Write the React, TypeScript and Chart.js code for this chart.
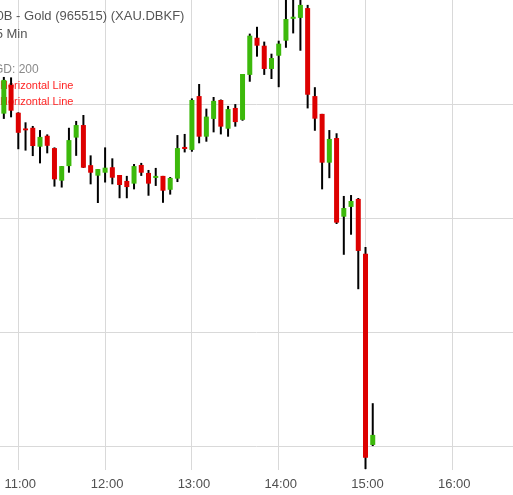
import React, { useEffect, useRef } from "react";
import { Chart, registerables } from "chart.js";

Chart.register(...registerables);

const times = [
  "10:50", "10:55",
  "11:00", "11:05", "11:10", "11:15", "11:20", "11:25", "11:30", "11:35", "11:40", "11:45", "11:50", "11:55",
  "12:00", "12:05", "12:10", "12:15", "12:20", "12:25", "12:30", "12:35", "12:40", "12:45", "12:50", "12:55",
  "13:00", "13:05", "13:10", "13:15", "13:20", "13:25", "13:30", "13:35", "13:40", "13:45", "13:50", "13:55",
  "14:00", "14:05", "14:10", "14:15", "14:20", "14:25", "14:30", "14:35", "14:40", "14:45", "14:50", "14:55",
  "15:00", "15:05",
];

const openValues = [
  1789.59, 1790.85,
  1789.63, 1788.94, 1788.97, 1788.14, 1788.62, 1788.08, 1786.65, 1787.29, 1788.54, 1789.09, 1787.33, 1786.87,
  1787.0, 1787.24, 1786.9, 1786.64, 1786.52, 1787.34, 1786.99, 1786.77, 1786.86, 1786.25, 1786.74, 1788.13,
  1788.0, 1790.36, 1788.58, 1789.36, 1790.19, 1788.93, 1789.84, 1789.32, 1791.29, 1792.92, 1792.57, 1791.55,
  1792.13, 1792.79, 1793.75, 1793.79, 1794.22, 1790.36, 1789.58, 1787.44, 1788.52, 1785.07, 1785.5, 1785.85,
  1783.44, 1775.06,
];

const highValues = [
  1791.2, 1791.18,
  1789.65, 1789.21, 1789.05, 1788.87, 1788.68, 1788.11, 1787.29, 1788.97, 1789.27, 1789.53, 1787.76, 1787.16,
  1788.11, 1787.63, 1786.9, 1786.86, 1787.38, 1787.43, 1787.12, 1787.21, 1786.86, 1786.81, 1788.65, 1788.7,
  1790.26, 1790.89, 1789.81, 1790.32, 1790.21, 1789.93, 1790.01, 1791.33, 1793.1, 1793.4, 1792.75, 1792.22,
  1792.79, 1794.6, 1794.6, 1794.8, 1794.36, 1790.75, 1789.58, 1788.87, 1788.73, 1785.98, 1786.02, 1785.89,
  1783.74, 1776.89,
];

const lowValues = [
  1789.36, 1789.43,
  1788.03, 1787.97, 1787.73, 1787.41, 1787.85, 1786.39, 1786.35, 1787.0, 1787.74, 1787.21, 1786.49, 1785.67,
  1786.57, 1786.49, 1785.88, 1785.88, 1786.27, 1786.86, 1785.99, 1786.42, 1785.68, 1786.04, 1786.59, 1787.89,
  1787.92, 1788.29, 1788.36, 1788.77, 1788.68, 1788.58, 1789.02, 1789.28, 1790.99, 1792.09, 1791.29, 1791.11,
  1790.75, 1792.48, 1793.11, 1792.35, 1789.82, 1788.84, 1786.27, 1786.76, 1784.75, 1783.4, 1784.28, 1781.89,
  1774.0, 1775.01,
];

const closeValues = [
  1791.07, 1789.72,
  1788.75, 1788.86, 1788.17, 1788.57, 1788.18, 1786.71, 1787.29, 1788.43, 1789.09, 1787.22, 1787.0, 1787.16,
  1787.22, 1786.78, 1786.46, 1786.37, 1787.29, 1787.0, 1786.52, 1786.86, 1786.21, 1786.77, 1788.08, 1788.04,
  1790.19, 1788.58, 1789.46, 1790.15, 1789.02, 1789.79, 1789.22, 1791.33, 1793.01, 1792.57, 1791.55, 1792.03,
  1792.66, 1793.74, 1793.84, 1794.36, 1790.42, 1789.37, 1787.44, 1788.48, 1784.81, 1785.45, 1785.76, 1783.57,
  1774.5, 1775.5,
];

const xTickLabels = ["11:00", "12:00", "13:00", "14:00", "15:00", "16:00"];
const yGridValues = [1775, 1780, 1785, 1790];

const titleText = "0B - Gold (965515) (XAU.DBKF)";
const intervalText = "5 Min";
const gdText = "GD: 200";
const lineLabels = ["Horizontal Line", "Horizontal Line"];

const FONT = '"Liberation Sans", Arial, sans-serif';
const UP = "#3cb90b";
const DOWN = "#dd0000";

const toMin = (s: string) => {
  const [h, m] = s.split(":").map(Number);
  return h * 60 + m;
};

const textPlugin = {
  id: "overlayText",
  beforeDatasetsDraw(chart: any) {
    const ctx = chart.ctx;
    ctx.save();
    ctx.textAlign = "left";
    ctx.textBaseline = "alphabetic";
    ctx.font = `13px ${FONT}`;
    ctx.fillStyle = "#555555";
    ctx.fillText(titleText, -3.4, 19.5);
    ctx.fillText(intervalText, -4.3, 37.5);
    ctx.font = `12px ${FONT}`;
    ctx.fillStyle = "#8a8a8a";
    ctx.fillText(gdText, -6, 72.7);
    ctx.font = `11px ${FONT}`;
    ctx.fillStyle = "#ff2424";
    ctx.fillText(lineLabels[0], 0, 88.5);
    ctx.fillText(lineLabels[1], 0, 104.5);
    ctx.restore();
  },
};

export default function App() {
  const ref = useRef<HTMLCanvasElement | null>(null);

  useEffect(() => {
    if (!ref.current) return;
    const xs = times.map(toMin);
    const colors = xs.map((_, i) => (closeValues[i] >= openValues[i] ? UP : DOWN));
    const bodies = xs.map((x, i) => ({ x, y: [openValues[i], closeValues[i]] }));
    const wicks = xs.map((x, i) => ({ x, y: [lowValues[i], highValues[i]] }));
    const xTicks = xTickLabels.map(toMin);

    const chart = new Chart(ref.current, {
      type: "bar",
      data: {
        datasets: [
          {
            data: bodies as any,
            backgroundColor: colors,
            barThickness: 5,
            grouped: false,
            borderWidth: 0,
            inflateAmount: 0,
          } as any,
          {
            data: wicks as any,
            backgroundColor: "#000000",
            barThickness: 2,
            grouped: false,
            borderWidth: 0,
            inflateAmount: 0,
          } as any,
        ],
      },
      plugins: [textPlugin],
      options: {
        animation: false,
        responsive: false,
        maintainAspectRatio: false,
        layout: { padding: 0 },
        plugins: {
          legend: { display: false },
          tooltip: { enabled: false },
          title: { display: false },
        },
        scales: {
          x: {
            type: "linear",
            min: 647.35,
            max: 1001.95,
            offset: false,
            border: { display: false },
            grid: { color: "#d9d9d9", lineWidth: 1, drawTicks: false, offset: false },
            ticks: {
              color: "#505050",
              font: { family: FONT, size: 13 },
              padding: 7,
              labelOffset: 2,
              maxRotation: 0,
              callback: (v: any) => {
                const h = Math.floor(Number(v) / 60);
                const m = Number(v) % 60;
                return `${h}:${String(m).padStart(2, "0")}`;
              },
            },
            afterBuildTicks: (scale: any) => {
              scale.ticks = xTicks.map((v) => ({ value: v }));
            },
            afterFit: (scale: any) => {
              scale.height = 25;
              scale.paddingLeft = 0;
              scale.paddingRight = 0;
            },
          },
          y: {
            type: "linear",
            min: 1773.96,
            max: 1794.575,
            border: { display: false },
            grid: { color: "#d9d9d9", lineWidth: 1, drawTicks: false },
            ticks: { display: false },
            afterBuildTicks: (scale: any) => {
              scale.ticks = yGridValues.map((v) => ({ value: v }));
            },
            afterFit: (scale: any) => {
              scale.width = 0;
              scale.paddingTop = 0;
              scale.paddingBottom = 0;
            },
          },
        },
      } as any,
    });
    return () => chart.destroy();
  }, []);

  return (
    <div style={{ position: "fixed", left: 0, top: 0, width: 513, height: 495, background: "#fff" }}>
      <canvas ref={ref} width={513} height={495} style={{ display: "block" }} />
    </div>
  );
}
